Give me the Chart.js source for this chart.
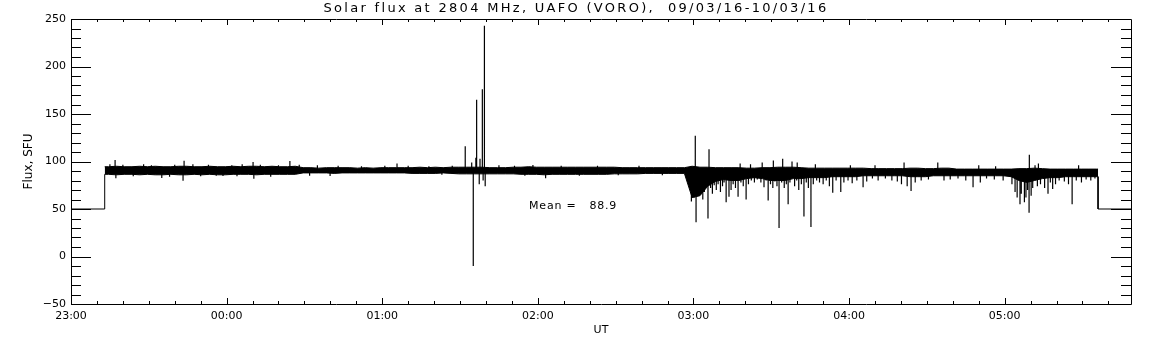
<!DOCTYPE html>
<html>
<head>
<meta charset="utf-8">
<script src="https://cdn.jsdelivr.net/npm/chart.js@4.4.0/dist/chart.umd.min.js"></script>
<style>
  html, body { margin: 0; padding: 0; background: #fff; }
  #wrap { width: 1152px; height: 345px; }
</style>
</head>
<body>
<div id="wrap"><canvas id="fluxChart"></canvas></div>
<script>
// time is in minutes after 23:00 UT
var hourTicks = [0, 60, 120, 180, 240, 300, 360];
var hourLabels = ['23:00', '00:00', '01:00', '02:00', '03:00', '04:00', '05:00'];
var fluxTicks = [-50, 0, 50, 100, 150, 200, 250];

var gapLevel = 50;     // value written when there is no data
var dataStart = 13;    // 23:13
var dataEnd = 396;     // 05:36
var axisEnd = 408.7;
var binMinutes = 3;

// top and bottom of the dense part of the trace, one pair per 3 minute bin from 23:13
var bandHigh = [
  94.5, 95, 94.5, 94.5, 95, 94.5, 95, 94.5, 94.5, 95,
  95, 94.5, 94.5, 95, 94.5, 94.5, 95, 94.5, 95, 95,
  94.5, 95, 94.5, 94.5, 95,
  93.5, 93.5, 93, 93.5, 93.5, 93.5, 93.5, 93, 93.5, 93,
  93.5, 93.5, 93.5, 93.5, 93.5, 94, 93.5, 94, 93.5, 94,
  94, 94, 94, 94,
  93.5, 93.5, 93.5, 94, 94, 94.5, 94, 94, 94, 94,
  94, 94, 94, 94, 94, 94, 94, 93.5, 93.5, 93.5,
  93.5, 93.5, 93.5, 93.5, 93.5, 93.5,
  95, 94, 94, 93.5, 93.5, 93.5, 93.5, 93, 93, 93.5,
  93.5, 94, 94, 94, 93.5, 93, 93, 93, 93, 93,
  93, 93, 93, 92.5, 92.5, 92.5, 92.5, 92.5, 93, 93,
  92.5, 92.5, 93, 93, 92, 92, 92, 92, 92, 92,
  92, 92, 92.5, 92.5, 93, 92.5, 92, 92, 92, 92,
  92, 92, 92
];
var bandLow = [
  86.5, 86, 86.5, 86.5, 86, 86.5, 86, 86, 86.5, 86,
  86, 86.5, 86, 86.5, 86, 86, 86.5, 86.5, 86.5, 86,
  86.5, 86.5, 86.5, 86.5, 86.5,
  88, 88, 88, 88, 87.5, 88, 88, 88, 88, 88,
  88, 88, 88, 88, 87.5, 87.5, 87.5, 87.5, 88, 87.5,
  87, 87, 87, 87,
  87, 87, 87, 87, 86.5, 86.5, 86.5, 86, 86.5, 86.5,
  86.5, 86.5, 86.5, 86.5, 86.5, 86.5, 87, 87, 87, 87,
  87.5, 87.5, 87.5, 87.5, 87.5, 87.5,
  62, 64, 74, 79, 81, 80, 80, 82, 83, 82,
  80, 80, 80, 82, 82, 83, 83, 83, 84, 84,
  84, 84, 85, 85, 85, 85, 85, 85, 84, 84,
  84, 85, 85, 85, 85, 85, 85, 85, 85, 85,
  85, 84, 80, 78, 80, 82, 83, 83, 84, 84,
  84, 84, 84
];

// single strokes sticking out of the band: [minute, flux]
var spikes = [
  // small noise before 03:00
  [15, 97], [17.0, 101.6], [17.3, 82.3], [20, 96.5], [24, 84.5], [28, 97], [31, 96],
  [35.0, 82.6], [38, 84], [40, 96.5], [43.2, 79.8], [43.6, 100.8], [47, 97], [50, 84.5],
  [53, 96.5], [56, 85], [58.6, 84.7], [62, 96], [64, 84.5], [66, 97], [70.2, 99.5],
  [70.5, 81.9], [73, 96.5], [77, 84], [80, 96], [84.4, 100.5], [88, 96.5], [92, 85],
  [95, 96], [99.9, 84.7], [103, 95.5], [112, 95], [121, 95.5], [125.7, 98], [130, 95.5],
  [138, 95], [143, 86], [147, 95.5], [165, 96], [171, 95.5], [175, 85], [178.1, 96.3],
  [183.0, 82.3], [189, 95.5], [196, 85], [203, 95.5], [211, 85.5], [219, 95.5], [228, 85.5],
  // burst around 01:37
  [152.0, 116], [154.5, 99], [155.1, -10], [156.1, 104], [156.4, 165],
  [157.4, 76], [157.7, 103], [158.6, 176], [158.9, 80], [159.4, 243], [159.7, 74],
  // disturbed period after 03:00
  [239.2, 58], [239.8, 66], [240.3, 62], [240.7, 127], [241.0, 36], [241.5, 64],
  [242.0, 70], [242.8, 72], [243.6, 60], [244.2, 68], [244.8, 74], [245.6, 40],
  [246.0, 113], [246.6, 72], [247.3, 66], [248.0, 75], [248.8, 70], [249.5, 76],
  [250.4, 68], [251.2, 74], [251.8, 78], [252.6, 57], [253.7, 63], [254.5, 70],
  [255.3, 76], [256.2, 72], [257.2, 63], [258.0, 98], [258.3, 78], [259.2, 74],
  [260.3, 60], [261.2, 76], [262.0, 97], [262.3, 80], [263.5, 78], [264.6, 81],
  [266.0, 78], [266.5, 99], [267.2, 73], [268.0, 80], [268.8, 59], [269.7, 76],
  [270.6, 72], [270.8, 101], [271.4, 79], [272.2, 74], [273.0, 30], [274.0, 78],
  [274.4, 103], [275.0, 72], [275.8, 76], [276.5, 55], [277.2, 78], [278.0, 100],
  [279.0, 74], [279.8, 80], [280.0, 99], [280.6, 70], [281.6, 76], [282.6, 42],
  [283.5, 78], [284.3, 72], [285.3, 31], [286.2, 76], [287.0, 97], [287.5, 80],
  [288.6, 78], [290.0, 76], [291.2, 80], [292.4, 74], [293.7, 67], [295.0, 80],
  [296.8, 68], [298.0, 78], [299.6, 80], [300.5, 96], [301.2, 77], [303.0, 80],
  [305.4, 73], [306.8, 79], [309.0, 82], [310.0, 96], [311.2, 80], [314.0, 82],
  [316.5, 80], [318.6, 79], [320.2, 76], [321.2, 99], [322.4, 74], [323.9, 69],
  [325.5, 78], [327.8, 80], [330.6, 81], [334.2, 99], [336.6, 80], [339.0, 81],
  [342.0, 82], [345.0, 80], [347.8, 73], [350.0, 96], [350.6, 78], [353.0, 82],
  [356.0, 81], [356.5, 95], [359.4, 80], [362.8, 76], [364.0, 68], [364.8, 62],
  [365.9, 55], [366.4, 66], [367.6, 57], [368.2, 62], [368.8, 70], [369.4, 46],
  [369.5, 107], [370.2, 64], [370.8, 72], [371.7, 96], [372.6, 74], [373.0, 98],
  [373.8, 76], [375.4, 72], [376.7, 66], [377.6, 78], [378.5, 71], [379.6, 76],
  [381.0, 80], [383.0, 79], [384.6, 76], [386.0, 55], [387.6, 80], [388.5, 96],
  [389.6, 78], [391.4, 81], [393.2, 80], [394.8, 82]
];

var meanFlux = 88.9;
var meanLabelAt = [176.6, 53.2];
var titleText = 'Solar flux at 2804 MHz, UAFO (VORO),  09/03/16-10/03/16';

// envelope of the band, sampled at bin centres
var highPoints = [{x: dataStart, y: bandHigh[0]}];
var lowPoints = [{x: dataStart, y: bandLow[0]}];
for (var i = 0; i < bandHigh.length; i++) {
  var t = dataStart + i * binMinutes + binMinutes / 2;
  highPoints.push({x: t, y: bandHigh[i]});
  lowPoints.push({x: t, y: bandLow[i]});
}
highPoints.push({x: dataEnd, y: bandHigh[bandHigh.length - 1]});
lowPoints.push({x: dataEnd, y: bandLow[bandLow.length - 1]});

// the 50 SFU stretches before and after the record
var gapPoints = [
  {x: 0, y: gapLevel}, {x: dataStart, y: gapLevel}, {x: dataStart, y: bandLow[0]},
  {x: dataStart, y: null},
  {x: dataEnd, y: bandLow[bandLow.length - 1]}, {x: dataEnd, y: gapLevel}, {x: axisEnd, y: gapLevel}
];

// each spike is a vertical stroke from the middle of its bin
var spikePoints = [];
spikes.forEach(function (s) {
  var k = Math.max(0, Math.min(bandHigh.length - 1, Math.floor((s[0] - dataStart) / binMinutes)));
  var mid = (bandHigh[k] + bandLow[k]) / 2;
  spikePoints.push({x: s[0], y: mid}, {x: s[0], y: s[1]}, {x: s[0], y: null});
});

// IDL style box with inward ticks on all four sides, plus title and mean label
var framePlugin = {
  id: 'idlFrame',
  afterDraw: function (chart) {
    var a = chart.chartArea, xs = chart.scales.x, ys = chart.scales.y, c = chart.ctx;
    c.save();
    c.strokeStyle = '#000';
    c.lineWidth = 1;
    c.beginPath();
    c.rect(a.left + 0.5, a.top + 0.5, a.right - a.left, a.bottom - a.top);
    for (var m = 0; m <= axisEnd; m += 10) {
      var px = Math.round(xs.getPixelForValue(m)) + 0.5;
      var len = m % 60 === 0 ? 6 : 3;
      c.moveTo(px, a.bottom); c.lineTo(px, a.bottom - len);
      c.moveTo(px, a.top); c.lineTo(px, a.top + len);
    }
    for (var v = -50; v <= 250; v += 10) {
      var py = Math.round(ys.getPixelForValue(v)) + 0.5;
      var len2 = v % 50 === 0 ? 20 : 10;
      c.moveTo(a.left, py); c.lineTo(a.left + len2, py);
      c.moveTo(a.right, py); c.lineTo(a.right - len2, py);
    }
    c.stroke();

    c.fillStyle = '#000';
    c.textBaseline = 'middle';
    c.font = '13px "DejaVu Sans"';
    c.letterSpacing = '2.3px';
    c.textAlign = 'center';
    c.fillText(titleText, chart.width / 2, 9);

    c.font = '11px "DejaVu Sans"';
    c.letterSpacing = '0.8px';
    c.textAlign = 'left';
    c.fillText('Mean =   ' + meanFlux.toFixed(1), xs.getPixelForValue(meanLabelAt[0]), ys.getPixelForValue(meanLabelAt[1]));
    c.restore();
  }
};

Chart.defaults.font.family = '"DejaVu Sans"';
Chart.defaults.color = '#000';

var ctx = document.getElementById('fluxChart').getContext('2d');
var fluxChart = new Chart(ctx, {
  type: 'line',
  data: {
    datasets: [{
      label: 'Band top',
      data: highPoints,
      borderColor: '#000',
      borderWidth: 1,
      pointRadius: 0,
      tension: 0,
      fill: false
    }, {
      label: 'Band bottom',
      data: lowPoints,
      borderColor: '#000',
      backgroundColor: '#000',
      borderWidth: 1,
      pointRadius: 0,
      tension: 0,
      fill: '-1'
    }, {
      label: 'No data',
      data: gapPoints,
      borderColor: '#000',
      borderWidth: 1,
      pointRadius: 0,
      tension: 0,
      spanGaps: false,
      fill: false
    }, {
      label: 'Spikes',
      data: spikePoints,
      borderColor: '#000',
      borderWidth: 1.2,
      pointRadius: 0,
      tension: 0,
      spanGaps: false,
      fill: false
    }]
  },
  options: {
    responsive: true,
    maintainAspectRatio: false,
    animation: false,
    layout: {
      padding: {left: 0, right: 21, top: 19, bottom: 0}
    },
    plugins: {
      legend: { display: false },
      tooltip: { enabled: false },
      title: { display: false }
    },
    scales: {
      x: {
        type: 'linear',
        min: 0,
        max: axisEnd,
        grid: { display: false, drawTicks: false },
        border: { display: false },
        afterBuildTicks: function (scale) {
          scale.ticks = hourTicks.map(function (v) { return {value: v}; });
        },
        afterFit: function (scale) { scale.height = 41; },
        ticks: {
          font: { size: 11 },
          padding: 6,
          maxRotation: 0,
          callback: function (value) {
            return hourLabels[hourTicks.indexOf(value)];
          }
        },
        title: {
          display: true,
          text: 'UT',
          font: { size: 11 },
          padding: { top: 0, bottom: 8 }
        }
      },
      y: {
        min: -50,
        max: 250,
        grid: { display: false, drawTicks: false },
        border: { display: false },
        afterBuildTicks: function (scale) {
          scale.ticks = fluxTicks.map(function (v) { return {value: v}; });
        },
        afterFit: function (scale) { scale.width = 71; },
        ticks: {
          font: { size: 11 },
          padding: 5,
          callback: function (value) {
            return value < 0 ? '\u2212' + Math.abs(value) : String(value);
          }
        },
        title: {
          display: true,
          text: 'Flux, SFU',
          font: { size: 12 },
          padding: { top: 22, bottom: 0 }
        }
      }
    }
  },
  plugins: [framePlugin]
});
</script>
</body>
</html>
